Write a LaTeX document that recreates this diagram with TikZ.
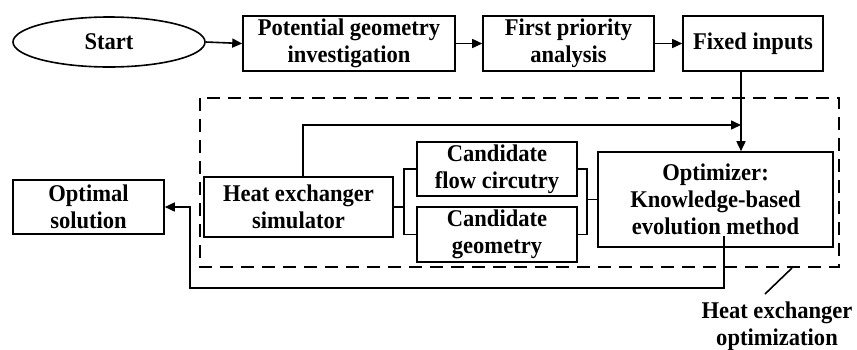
\documentclass[tikz,border=0pt]{standalone}
\usepackage{fontspec}
\setmainfont{Liberation Serif}[FakeStretch=0.94]
\usetikzlibrary{shapes.geometric,arrows.meta}
\begin{document}
\begin{tikzpicture}[x=1pt,y=-1pt,
  every node/.style={font=\bfseries\fontsize{24}{27}\selectfont, align=center, inner sep=0pt},
  box/.style={draw, rectangle, line width=1.6pt},
  conn/.style={line width=1.6pt},
  arr/.style={conn, -{Triangle[length=10pt,width=9pt]}},
  dashbox/.style={line width=1.6pt, dash pattern=on 13pt off 8pt}]
\useasboundingbox (0,0) rectangle (857,349);
\node[draw, ellipse, line width=1.6pt, minimum width=192pt, minimum height=50pt] (start) at (109,42) {Start};
\node[box, minimum width=212pt, minimum height=55pt] (pot) at (349,43.5) {Potential geometry\\investigation};
\node[box, minimum width=171pt, minimum height=55pt] (first) at (568.5,43.5) {First priority\\analysis};
\node[box, minimum width=140pt, minimum height=55pt] (fixed) at (753,43.5) {Fixed inputs};
\draw[dashbox] (200,98) rectangle (839,267);
\node[box, minimum width=189pt, minimum height=60pt] (sim) at (298.5,207) {Heat exchanger\\simulator};
\node[box, minimum width=160pt, minimum height=54pt] (flow) at (497,169) {Candidate\\flow circutry};
\node[box, minimum width=160pt, minimum height=55pt] (geom) at (497,234.5) {Candidate\\geometry};
\node[box, minimum width=235pt, minimum height=95pt] (opt) at (715.5,199.5) {Optimizer:\\Knowledge-based\\evolution method};
\node[box, minimum width=151pt, minimum height=54pt] (optsol) at (88.5,207) {Optimal\\solution};
\node (hl) at (777,326) {Heat exchanger\\optimization};
\coordinate (j) at (741,125);
\coordinate (bl) at (404,0);
\coordinate (br) at (587,0);
\coordinate (fb) at (190,288);
\coordinate (la) at (792,268);
\coordinate (lb) at (765,294);
\draw[arr] (start.east) -- (pot.west);
\draw[arr] (pot.east) -- (first.west);
\draw[arr] (first.east) -- (fixed.west);
\draw[arr] (fixed.south -| j) -- (opt.north -| j);
\draw[arr] ([xshift=4.5pt]sim.north) |- (j);
\draw[conn] (sim.east) -- (sim.east -| bl);
\draw[conn] (flow.west) -| (bl |- geom.west) -- (geom.west);
\draw[conn] (flow.east) -| (br |- geom.east) -- (geom.east);
\draw[conn] (opt.west) -- (opt.west -| br);
\draw[arr] ([xshift=8.5pt,yshift=12pt]opt.south) |- (fb) |- (optsol.east);
\draw[conn] (la) -- (lb);
\end{tikzpicture}
\end{document}
